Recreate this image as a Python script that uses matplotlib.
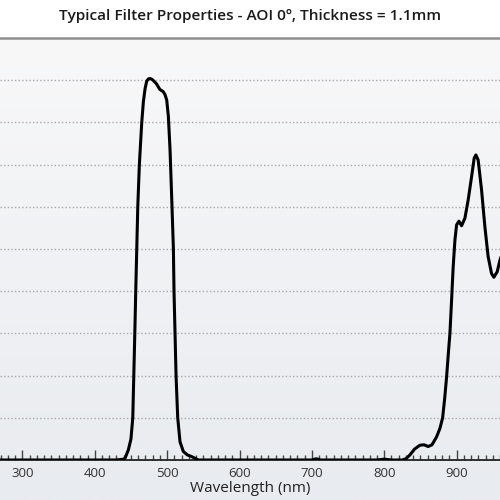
import matplotlib.pyplot as plt
import numpy as np

# Transmission curve (wavelength nm, transmission %)
wavelength = [260, 300, 400, 430, 440, 442, 446.4, 450, 452.5, 453.9, 455.3,
              456.6, 458, 459.4, 461.6, 464.9, 467.2, 469.5, 471.8, 474, 476.4,
              479, 481, 485, 490, 494.5, 497, 499.4, 501.7, 504, 506.4, 508.6,
              509.5, 510.9, 512.3, 514.6, 517.8, 522.4, 528, 534, 543, 600,
              700, 706, 712, 790, 800, 810, 825, 830, 835.5, 842, 849.3, 855,
              860.8, 866, 872.4, 877, 880.7, 883.5, 886.2, 888.5, 890.8, 893.1,
              895.3, 897.7, 900, 903.2, 906.9, 911.5, 916, 920.7, 924.3, 926.7,
              929.8, 934.5, 939.1, 943.6, 948.3, 951.5, 956.1, 960, 965]
transmission = [0, 0, 0, 0, 0.2, 0.5, 2.4, 5, 10, 20, 30,
                40, 50, 60, 70, 80, 85, 88, 89.8, 90.3, 90.4,
                90.2, 89.9, 89.2, 87.8, 87.3, 86.6, 85.3, 81.4, 73.5, 61.6, 50.2,
                39.9, 30, 20, 10, 4.3, 2, 1.2, 0.8, 0, 0,
                0, 0.3, 0, 0, 0.2, 0, 0, 0.3, 1.2, 2.6, 3.5, 3.6,
                3.2, 3.6, 5.5, 7.5, 10, 14.5, 19.7, 25, 30, 37.9,
                45.8, 52.1, 55.7, 56.6, 55.5, 57.3, 61.6, 67.1, 71.5, 72.3,
                71.1, 64, 55.3, 48.2, 44.2, 43.3, 44.6, 47.4, 50]

major_ticks = list(range(200, 1200, 100))
grid_levels = [10, 20, 30, 40, 50, 60, 70, 80, 90]

title = "Typical Filter Properties - AOI 0º, Thickness = 1.1mm"

plt.rcParams['font.family'] = ['Open Sans', 'DejaVu Sans']

fig = plt.figure(figsize=(5, 5), dpi=100)
fig.patch.set_facecolor('white')

# light gradient panel behind the plot and axis labels
bg = fig.add_axes([0, 0, 1, 0.924])
grad = np.linspace(0, 1, 256).reshape(-1, 1)
cmap = plt.matplotlib.colors.LinearSegmentedColormap.from_list(
    'bg', ['#e8ebef', '#f8f8f9'])
bg.imshow(grad, aspect='auto', cmap=cmap, origin='lower', extent=[0, 1, 0, 1])
bg.axis('off')

ax = fig.add_axes([0, 0.08, 1, 0.844])
ax.patch.set_alpha(0)

for g in grid_levels:
    ax.axhline(g, color='#a8a8a8', lw=1.0, ls=(0, (1, 1.6)), zorder=1)
ax.axhline(100, color='#8e8e8e', lw=1.8, zorder=1, clip_on=False)

ax.plot(wavelength, transmission, color='black', lw=2.2,
        solid_joinstyle='round', solid_capstyle='round', zorder=3)

for side in ['top', 'left', 'right']:
    ax.spines[side].set_visible(False)
ax.spines['bottom'].set_color('#222222')
ax.spines['bottom'].set_linewidth(1.3)

ax.set_xticks(major_ticks)
ax.set_xticks(list(range(200, 1110, 10)), minor=True)
ax.tick_params(axis='x', which='major', direction='in', length=7, width=1,
               color='#444444', labelsize=9.5, labelcolor='#333333', pad=5)
ax.tick_params(axis='x', which='minor', direction='in', length=3.5, width=1,
               color='#444444')
ax.set_yticks([])
ax.set_xlim(269, 960)
ax.set_ylim(0, 100)
ax.set_xlabel("Wavelength (nm)", fontsize=11, color='#222222', labelpad=1)

fig.text(0.5, 0.968, title, ha='center', va='center', fontsize=11.1,
         color='#1a1a1a', fontweight='semibold')

fig.savefig('out.png', dpi=100)
